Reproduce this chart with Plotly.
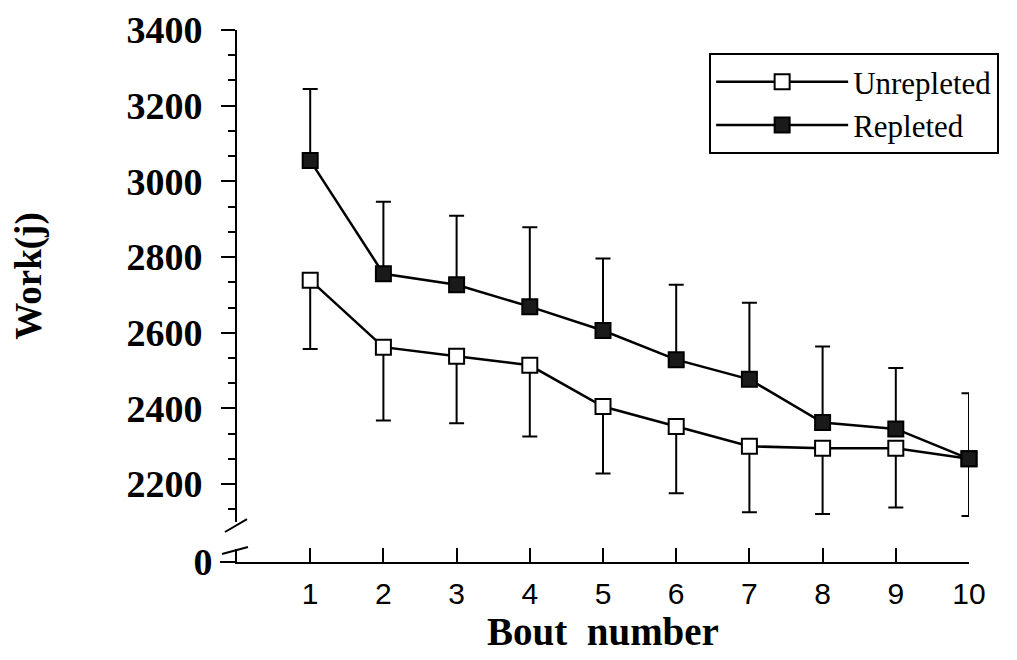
import plotly.graph_objects as go

bouts = [1, 2, 3, 4, 5, 6, 7, 8, 9, 10]
unrepleted = [2739, 2562, 2538, 2514, 2405, 2352, 2300, 2295, 2295, 2267]
unrepleted_low = [2557, 2368, 2361, 2326, 2228, 2176, 2126, 2121, 2138, 2116]
repleted = [3055, 2756, 2727, 2669, 2606, 2529, 2477, 2363, 2346, 2267]
repleted_high = [3244, 2946, 2909, 2879, 2796, 2727, 2679, 2564, 2507, 2440]
y_ticks = [2200, 2400, 2600, 2800, 3000, 3200, 3400]

unrep_minus = [v - lo for v, lo in zip(unrepleted, unrepleted_low)]
rep_plus = [hi - v for v, hi in zip(repleted, repleted_high)]
zeros = [0] * len(bouts)

SERIF = "Liberation Serif, Times New Roman, serif"
SANS = "Liberation Sans, Arial, sans-serif"

fig = go.Figure()
# empty trace so that the short lower (broken) y axis segment is drawn
fig.add_trace(go.Scatter(x=[], y=[], xaxis="x", yaxis="y", showlegend=False, hoverinfo="skip"))
fig.add_trace(go.Scatter(
    x=bouts, y=unrepleted, name="Unrepleted", mode="lines+markers",
    xaxis="x", yaxis="y2", cliponaxis=False,
    line=dict(color="black", width=2.5),
    marker=dict(symbol="square", size=15, color="white", line=dict(color="black", width=2)),
    error_y=dict(type="data", symmetric=False, array=zeros, arrayminus=unrep_minus,
                 color="black", thickness=2, width=7.5),
))
fig.add_trace(go.Scatter(
    x=bouts, y=repleted, name="Repleted", mode="lines+markers",
    xaxis="x", yaxis="y2", cliponaxis=False,
    line=dict(color="black", width=2.5),
    marker=dict(symbol="square", size=15, color="#1a1a1a", line=dict(color="black", width=2)),
    error_y=dict(type="data", symmetric=False, array=rep_plus, arrayminus=zeros,
                 color="black", thickness=2, width=7.5),
))

d_main = 0.0752
d_low = 0.0244

line_style = dict(color="black", width=2)
shapes = [
    # break marks on the y axis
    dict(type="line", xref="paper", yref="paper", x0=-0.0164, y0=0.0564, x1=0.0137, y1=0.0808, line=line_style),
    dict(type="line", xref="paper", yref="paper", x0=-0.0205, y0=0.0150, x1=0.0150, y1=0.0282, line=line_style),
]

fig.update_layout(
    width=1017, height=660,
    margin=dict(l=229, r=56, t=22, b=106, autoexpand=False),
    paper_bgcolor="white", plot_bgcolor="white",
    showlegend=True,
    legend=dict(
        x=0.645, y=0.9568, xanchor="left", yanchor="top",
        bordercolor="black", borderwidth=2, bgcolor="white",
        font=dict(family=SERIF, size=31, color="black"),
        itemwidth=132, tracegroupgap=0,
    ),
    xaxis=dict(
        range=[0, 10], tickvals=bouts, ticktext=[str(b) for b in bouts],
        ticks="inside", ticklen=14, tickwidth=2, tickcolor="black",
        showline=True, linecolor="black", linewidth=2,
        showgrid=False, zeroline=False, anchor="y", automargin=False,
        tickfont=dict(family=SANS, size=30, color="black"),
        ticklabelstandoff=4, ticklabeloverflow="allow",
        title=dict(text="<b>Bout  number</b>", font=dict(family=SERIF, size=39, color="black"), standoff=6),
    ),
    yaxis=dict(
        domain=[0, d_low], range=[0, 100], tickvals=[0], ticktext=["<b>0</b>"],
        ticks="outside", ticklen=15, tickwidth=2, tickcolor="black",
        showline=True, linecolor="black", linewidth=2,
        showgrid=False, zeroline=False, anchor="x", automargin=False,
        tickfont=dict(family=SERIF, size=38, color="black"),
        ticklabelstandoff=0, ticklabeloverflow="allow",
    ),
    yaxis2=dict(
        domain=[d_main, 1], range=[2100, 3400],
        tickvals=y_ticks, ticktext=[f"<b>{t}</b>" for t in y_ticks],
        ticks="outside", ticklen=14, tickwidth=2, tickcolor="black",
        minor=dict(tickmode="linear", tick0=2200, dtick=200 / 3, ticks="outside",
                   ticklen=7, tickwidth=2, tickcolor="black", showgrid=False),
        showline=True, linecolor="black", linewidth=2,
        showgrid=False, zeroline=False, anchor="x", automargin=False,
        tickfont=dict(family=SERIF, size=38, color="black"),
        ticklabelstandoff=11, ticklabeloverflow="allow",
        title=dict(text="<b>Work(j)</b>", font=dict(family=SERIF, size=37, color="black"), standoff=85),
    ),
    shapes=shapes,
)

fig.write_html("out.html")
